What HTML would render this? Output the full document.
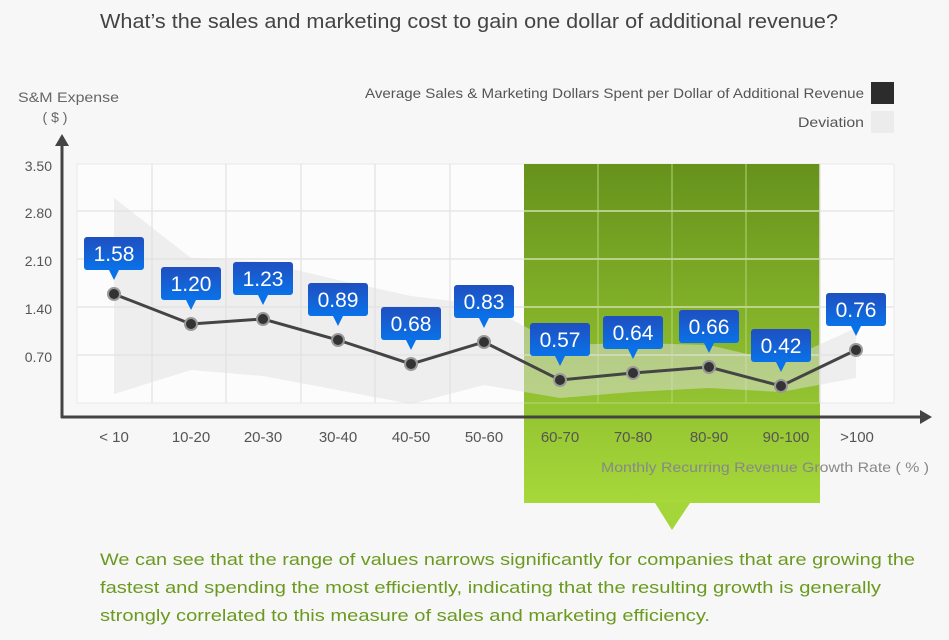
<!DOCTYPE html>
<html><head><meta charset="utf-8"><style>
body{margin:0;width:949px;height:635px;background:#f7f7f7;font-family:"Liberation Sans","DejaVu Sans",sans-serif;overflow:hidden}
</style></head><body>
<svg width="949" height="635" viewBox="0 0 949 635" xmlns="http://www.w3.org/2000/svg" font-family="Liberation Sans, DejaVu Sans, sans-serif">
<defs>
<linearGradient id="g" x1="0" y1="0" x2="0" y2="1"><stop offset="0" stop-color="#66921c"/><stop offset="1" stop-color="#a6d83a"/></linearGradient>
<linearGradient id="b" x1="0" y1="0" x2="0" y2="1"><stop offset="0" stop-color="#1f4fc0"/><stop offset="1" stop-color="#0a72e8"/></linearGradient>
</defs>
<text x="100" y="28" font-size="20" fill="#444" textLength="738" lengthAdjust="spacingAndGlyphs">What’s the sales and marketing cost to gain one dollar of additional revenue?</text>
<text x="18" y="102" font-size="14" fill="#666" textLength="101" lengthAdjust="spacingAndGlyphs">S&amp;M Expense</text>
<text x="55" y="122" font-size="14" fill="#666" text-anchor="middle">( $ )</text>
<text x="365" y="98" font-size="14" fill="#555" textLength="499" lengthAdjust="spacingAndGlyphs">Average Sales &amp; Marketing Dollars Spent per Dollar of Additional Revenue</text>
<rect x="871" y="82" width="23" height="22" fill="#2c2c2c"/>
<text x="798" y="127" font-size="14" fill="#555" textLength="66" lengthAdjust="spacingAndGlyphs">Deviation</text>
<rect x="871" y="111" width="23" height="22" fill="#ececec"/>
<rect x="77" y="164" width="817" height="239" fill="#fcfcfc" stroke="#e8e8e8"/>
<rect x="524" y="164" width="296" height="339" fill="url(#g)"/>
<polygon points="655,503 690,503 672,530" fill="#a4d63a"/>
<g stroke="#e6e6e6" stroke-width="1.5">
<line x1="77" y1="211" x2="894" y2="211"/><line x1="77" y1="259" x2="894" y2="259"/><line x1="77" y1="307" x2="894" y2="307"/><line x1="77" y1="355" x2="894" y2="355"/>
<line x1="152" y1="164" x2="152" y2="403"/><line x1="226" y1="164" x2="226" y2="403"/><line x1="301" y1="164" x2="301" y2="403"/><line x1="375" y1="164" x2="375" y2="403"/><line x1="450" y1="164" x2="450" y2="403"/><line x1="820" y1="164" x2="820" y2="403"/>
</g>
<g stroke="#b6d87a" stroke-width="1.2" opacity="0.8">
<line x1="524" y1="211" x2="820" y2="211"/><line x1="524" y1="259" x2="820" y2="259"/><line x1="524" y1="307" x2="820" y2="307"/><line x1="524" y1="355" x2="820" y2="355"/><line x1="524" y1="403" x2="820" y2="403"/>
<line x1="598" y1="164" x2="598" y2="403"/><line x1="672" y1="164" x2="672" y2="403"/><line x1="746" y1="164" x2="746" y2="403"/>
</g>
<polygon points="114,198 191,258 263,262 338,280 411,296 484,305 560,345 633,343 709,345 781,362 856,328 856,378 781,392 709,388 633,392 560,398 484,385 411,404 338,390 263,376 191,370 114,394" fill="#e0e0e0" opacity="0.5"/>
<g fill="#555" font-size="14" text-anchor="end">
<text x="52" y="171">3.50</text><text x="52" y="218">2.80</text><text x="52" y="266">2.10</text><text x="52" y="314">1.40</text><text x="52" y="362">0.70</text>
</g>
<line x1="62" y1="143" x2="62" y2="418" stroke="#444" stroke-width="3"/>
<polygon points="55,146 69,146 62,134" fill="#444"/>
<line x1="61" y1="417" x2="922" y2="417" stroke="#444" stroke-width="3"/>
<polygon points="920,410 920,424 932,417" fill="#444"/>
<g fill="#555" font-size="15" text-anchor="middle">
<text x="114" y="442">&lt; 10</text><text x="191" y="442">10-20</text><text x="263" y="442">20-30</text><text x="338" y="442">30-40</text><text x="411" y="442">40-50</text><text x="484" y="442">50-60</text><text x="560" y="442">60-70</text><text x="633" y="442">70-80</text><text x="709" y="442">80-90</text><text x="786" y="442">90-100</text><text x="857" y="442">&gt;100</text>
</g>
<text x="601" y="472" font-size="14" fill="#888" textLength="328" lengthAdjust="spacingAndGlyphs">Monthly Recurring Revenue Growth Rate ( % )</text>
<polyline points="114,294 191,324 263,319 338,340 411,364 484,342 560,380 633,373 709,367 781,386 856,350" fill="none" stroke="#444" stroke-width="3"/>
<g fill="#333" stroke="#999" stroke-width="2">
<circle cx="114" cy="294" r="6"/><circle cx="191" cy="324" r="6"/><circle cx="263" cy="319" r="6"/><circle cx="338" cy="340" r="6"/><circle cx="411" cy="364" r="6"/><circle cx="484" cy="342" r="6"/><circle cx="560" cy="380" r="6"/><circle cx="633" cy="373" r="6"/><circle cx="709" cy="367" r="6"/><circle cx="781" cy="386" r="6"/><circle cx="856" cy="350" r="6"/>
</g>
<g font-size="21" fill="#fff" text-anchor="middle">
<g transform="translate(114,294)"><rect x="-30" y="-57" width="60" height="33" rx="3" fill="url(#b)"/><polygon points="-5,-24 5,-24 0,-14" fill="#0a72e8"/><text y="-33">1.58</text></g>
<g transform="translate(191,324)"><rect x="-30" y="-57" width="60" height="33" rx="3" fill="url(#b)"/><polygon points="-5,-24 5,-24 0,-14" fill="#0a72e8"/><text y="-33">1.20</text></g>
<g transform="translate(263,319)"><rect x="-30" y="-57" width="60" height="33" rx="3" fill="url(#b)"/><polygon points="-5,-24 5,-24 0,-14" fill="#0a72e8"/><text y="-33">1.23</text></g>
<g transform="translate(338,340)"><rect x="-30" y="-57" width="60" height="33" rx="3" fill="url(#b)"/><polygon points="-5,-24 5,-24 0,-14" fill="#0a72e8"/><text y="-33">0.89</text></g>
<g transform="translate(411,364)"><rect x="-30" y="-57" width="60" height="33" rx="3" fill="url(#b)"/><polygon points="-5,-24 5,-24 0,-14" fill="#0a72e8"/><text y="-33">0.68</text></g>
<g transform="translate(484,342)"><rect x="-30" y="-57" width="60" height="33" rx="3" fill="url(#b)"/><polygon points="-5,-24 5,-24 0,-14" fill="#0a72e8"/><text y="-33">0.83</text></g>
<g transform="translate(560,380)"><rect x="-30" y="-57" width="60" height="33" rx="3" fill="url(#b)"/><polygon points="-5,-24 5,-24 0,-14" fill="#0a72e8"/><text y="-33">0.57</text></g>
<g transform="translate(633,373)"><rect x="-30" y="-57" width="60" height="33" rx="3" fill="url(#b)"/><polygon points="-5,-24 5,-24 0,-14" fill="#0a72e8"/><text y="-33">0.64</text></g>
<g transform="translate(709,367)"><rect x="-30" y="-57" width="60" height="33" rx="3" fill="url(#b)"/><polygon points="-5,-24 5,-24 0,-14" fill="#0a72e8"/><text y="-33">0.66</text></g>
<g transform="translate(781,386)"><rect x="-30" y="-57" width="60" height="33" rx="3" fill="url(#b)"/><polygon points="-5,-24 5,-24 0,-14" fill="#0a72e8"/><text y="-33">0.42</text></g>
<g transform="translate(856,350)"><rect x="-30" y="-57" width="60" height="33" rx="3" fill="url(#b)"/><polygon points="-5,-24 5,-24 0,-14" fill="#0a72e8"/><text y="-33">0.76</text></g>
</g>
<g font-size="17" fill="#6a9a1f">
<text x="100" y="565" textLength="815" lengthAdjust="spacingAndGlyphs">We can see that the range of values narrows significantly for companies that are  growing the</text>
<text x="100" y="593" textLength="781" lengthAdjust="spacingAndGlyphs">fastest and spending the most efficiently, indicating that the resulting growth is generally</text>
<text x="100" y="621" textLength="610" lengthAdjust="spacingAndGlyphs">strongly correlated to this measure of sales and marketing efficiency.</text>
</g>
</svg>
</body></html>
